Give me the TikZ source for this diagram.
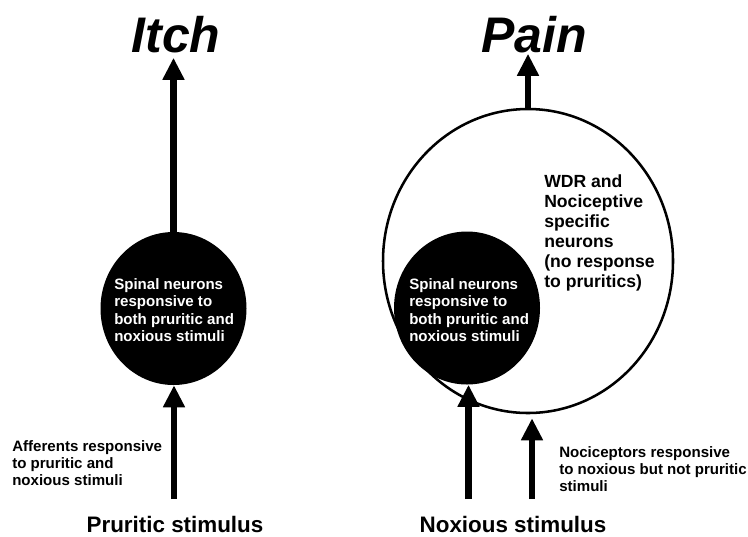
\documentclass[tikz,border=0pt]{standalone}
\usepackage{fontspec}
\setmainfont{Liberation Sans}
\usepackage{tikz}
\usetikzlibrary{arrows.meta, shapes.geometric, positioning}

\begin{document}
\begin{tikzpicture}[
    x=0.75pt, y=-0.75pt,
    cell/.style    = {ellipse, fill=black, inner sep=0pt,
                      minimum width=109.5pt, minimum height=114.75pt},
    pool/.style    = {ellipse, draw, line width=1.9pt, fill=white, inner sep=0pt,
                      minimum width=217.5pt, minimum height=228pt},
    celltxt/.style = {text=white, align=left, anchor=west, inner sep=0pt,
                      font=\bfseries\fontsize{11.3}{13}\selectfont},
    note/.style    = {align=left, anchor=west, inner sep=0pt,
                      font=\bfseries\fontsize{11.3}{12.5}\selectfont},
    title/.style   = {anchor=base, inner xsep=0pt,
                      font=\bfseries\itshape\fontsize{37.5}{40}\selectfont},
    stim/.style    = {inner sep=0pt, font=\bfseries\fontsize{16.8}{18}\selectfont},
    arr/.style     = {-{Triangle[width=15.5pt, length=16.5pt]}, line width=5.2pt},
  ]
  \useasboundingbox (0,0) rectangle (748,536);

  % cells
  \node[pool] (wdr) at (528,261) {};
  \node[cell] (spL) at (173.5,308.5) {};
  \node[cell] (spR) at (467,308) {};
  \node[celltxt] (spLtxt) at (114,310) {Spinal neurons\\responsive to\\both pruritic and\\noxious stimuli};
  \node[celltxt] (spRtxt) at (409,310) {Spinal neurons\\responsive to\\both pruritic and\\noxious stimuli};
  \node[note, font=\bfseries\fontsize{13.2}{15}\selectfont] (wdrtxt) at (544,232.5)
       {WDR and\\Nociceptive\\specific\\neurons\\(no response\\to pruritics)};

  % percepts
  \node[title, inner ysep=3.75pt] (itch) at (176,52) {Itch};
  \node[title, inner ysep=0.75pt] (pain) at (534,52) {Pain};
  \draw[arr] (spL.north) -- (spL.north |- itch.south);
  \draw[arr] (wdr.north) -- (wdr.north |- pain.south);

  % stimuli and afferents
  \node[stim] (prur) at (175,524) {Pruritic stimulus};
  \node[stim] (nox) at (513,524) {Noxious stimulus};
  \node[note] (aff) at (12,463) {Afferents responsive\\to pruritic and\\noxious stimuli};
  \node[note] (noci) at (559,469) {Nociceptors responsive\\to noxious but not pruritic\\stimuli};
  \coordinate (inL) at (174,499);
  \coordinate (inR1) at (468.5,499);
  \coordinate (inR2) at (532,499);
  \draw[arr] (inL) -- (inL |- spL.south);
  \draw[arr] (inR1) -- (inR1 |- spR.south);
  \draw[arr, shorten >=3pt] (inR2) -- (inR2 |- wdr.south);
\end{tikzpicture}
\end{document}
